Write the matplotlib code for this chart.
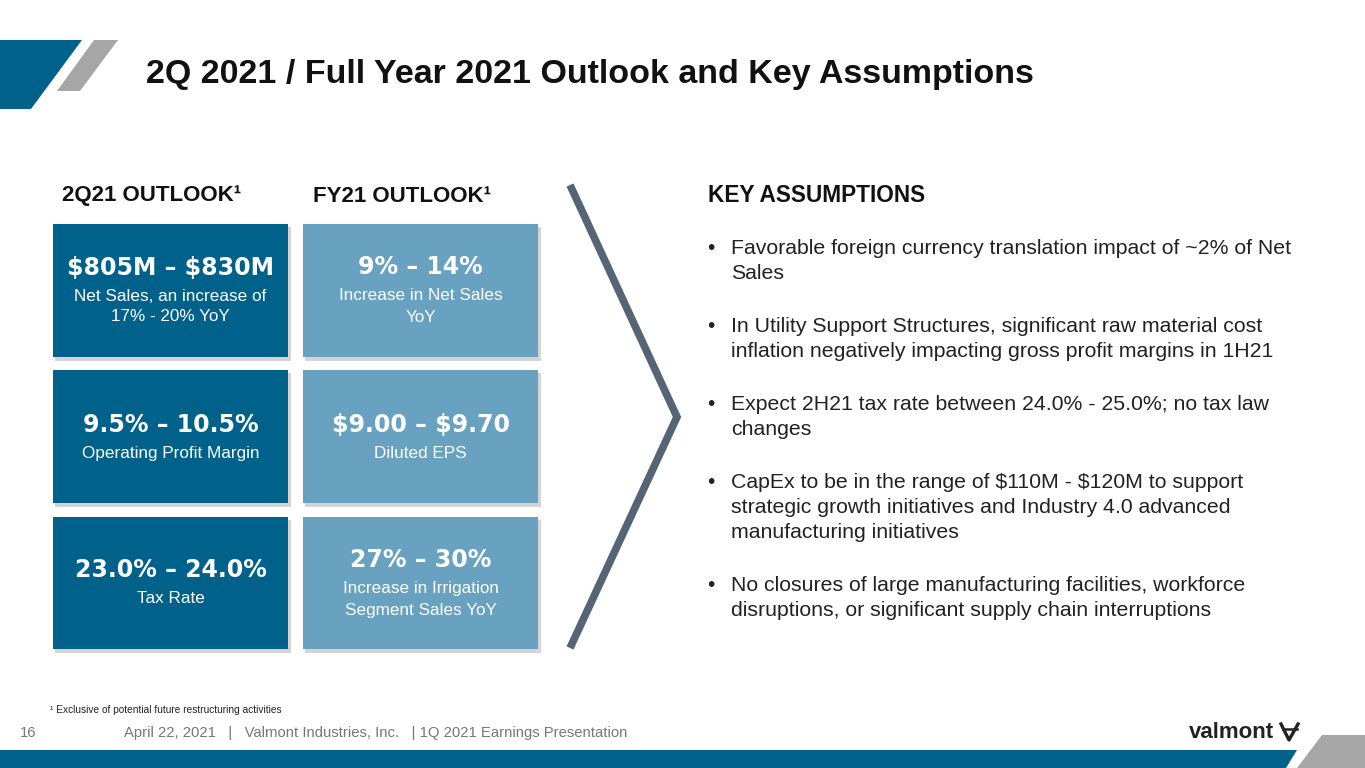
import matplotlib
matplotlib.use("Agg")
import matplotlib.pyplot as plt
from matplotlib.patches import Polygon, Rectangle

plt.rcParams['font.family'] = ['Liberation Sans', 'DejaVu Sans']
plt.rcParams['text.parse_math'] = False

# ---- slide content ----
title = "2Q 2021 / Full Year 2021 Outlook and Key Assumptions"
col_heads = ["2Q21 OUTLOOK\u00b9", "FY21 OUTLOOK\u00b9"]

q_values = ["$805M \u2013 $830M", "9.5% \u2013 10.5%", "23.0% \u2013 24.0%"]
q_labels = ["Net Sales, an increase of\n17% - 20% YoY", "Operating Profit Margin", "Tax Rate"]
fy_values = ["9% \u2013 14%", "$9.00 \u2013 $9.70", "27% \u2013 30%"]
fy_labels = ["Increase in Net Sales\nYoY", "Diluted EPS", "Increase in Irrigation\nSegment Sales YoY"]

assumptions_head = "KEY ASSUMPTIONS"
assumptions = [
    ["Favorable foreign currency translation impact of ~2% of Net", "Sales"],
    ["In Utility Support Structures, significant raw material cost",
     "inflation negatively impacting gross profit margins in 1H21"],
    ["Expect 2H21 tax rate between 24.0% - 25.0%; no tax law", "changes"],
    ["CapEx to be in the range of $110M - $120M to support",
     "strategic growth initiatives and Industry 4.0 advanced",
     "manufacturing initiatives"],
    ["No closures of large manufacturing facilities, workforce",
     "disruptions, or significant supply chain interruptions"],
]
footnote = "\u00b9 Exclusive of potential future restructuring activities"
page_no = "16"
footer = "April 22, 2021   |   Valmont Industries, Inc.   | 1Q 2021 Earnings Presentation"

dark_blue = "#00628a"
light_blue = "#68a2c0"
grey_band = "#a6a6a6"
chevron_col = "#566573"

fig = plt.figure(figsize=(13.65, 7.68), dpi=100)
ax = fig.add_axes([0, 0, 1, 1])
ax.set_xlim(0, 1365)
ax.set_ylim(768, 0)
ax.axis('off')

# corner decorations
ax.add_patch(Polygon([(0, 40), (82, 40), (31, 109), (0, 109)], color=dark_blue, lw=0))
ax.add_patch(Polygon([(94, 40), (118, 40), (80, 91), (57, 91)], color=grey_band, lw=0))
ax.add_patch(Polygon([(0, 750), (1297, 750), (1286, 768), (0, 768)], color=dark_blue, lw=0))
ax.add_patch(Polygon([(1322, 735), (1365, 735), (1365, 768), (1297, 768)], color=grey_band, lw=0))

ax.text(146, 74, title, fontsize=24.5, fontweight='bold', color='#111111', va='center')

# column headers
for hx, h in zip([62, 313], col_heads):
    ax.text(hx, 196, h, fontsize=16, fontweight='bold', color='#111111', va='center')

# outlook boxes
rows_y = [(224, 357), (370, 503), (517, 649)]
cols_x = [(53, 288, dark_blue, q_values, q_labels), (303, 538, light_blue, fy_values, fy_labels)]
val_y = [[268, 425, 570], [267, 425, 560]]
for ci, (x0, x1, col, vals, labs) in enumerate(cols_x):
    cx = (x0 + x1) / 2
    for ri, (y0, y1) in enumerate(rows_y):
        ax.add_patch(Rectangle((x0 + 2, y0 + 3), x1 - x0 + 1, y1 - y0 + 1, color='#d4d4d4', lw=0))
        ax.add_patch(Rectangle((x0, y0), x1 - x0, y1 - y0, color=col, lw=0))
        vy = val_y[ci][ri]
        ax.text(cx, vy, vals[ri], fontsize=17, fontweight='bold', color='white',
                family='DejaVu Sans', ha='center', va='center')
        ax.text(cx, vy + 21, labs[ri], fontsize=12.3, color='white', ha='center', va='top',
                linespacing=1.6 if ci == 1 else 1.4)

# chevron
ax.plot([570, 677, 570], [185, 417, 648], color=chevron_col, lw=5.5, solid_joinstyle='miter',
        solid_capstyle='butt')

# key assumptions
ax.text(708, 196, assumptions_head, fontsize=16.3, fontweight='bold', color='#111111', va='center')
y = 249
for item in assumptions:
    ax.text(707, y, "\u2022", fontsize=15, color='#222222', va='center')
    for line in item:
        ax.text(731, y, line, fontsize=15.3, color='#222222', va='center')
        y += 24.5
    y += 29

# footer
ax.text(50, 710, footnote, fontsize=7.3, color='#222222', va='center')
ax.text(20, 733, page_no, fontsize=10.7, color='#777777', va='center')
ax.text(124, 733, footer, fontsize=10.7, color='#777777', va='center')

# logo
ax.text(1189, 732, "valmont", fontsize=16, fontweight='bold', color='#222222', va='center')
ax.plot([1281, 1289, 1298], [724, 740, 724], color='#222222', lw=2.4)
ax.plot([1283, 1297], [729, 729], color='#222222', lw=1.8)

fig.savefig("out.png", dpi=100)
